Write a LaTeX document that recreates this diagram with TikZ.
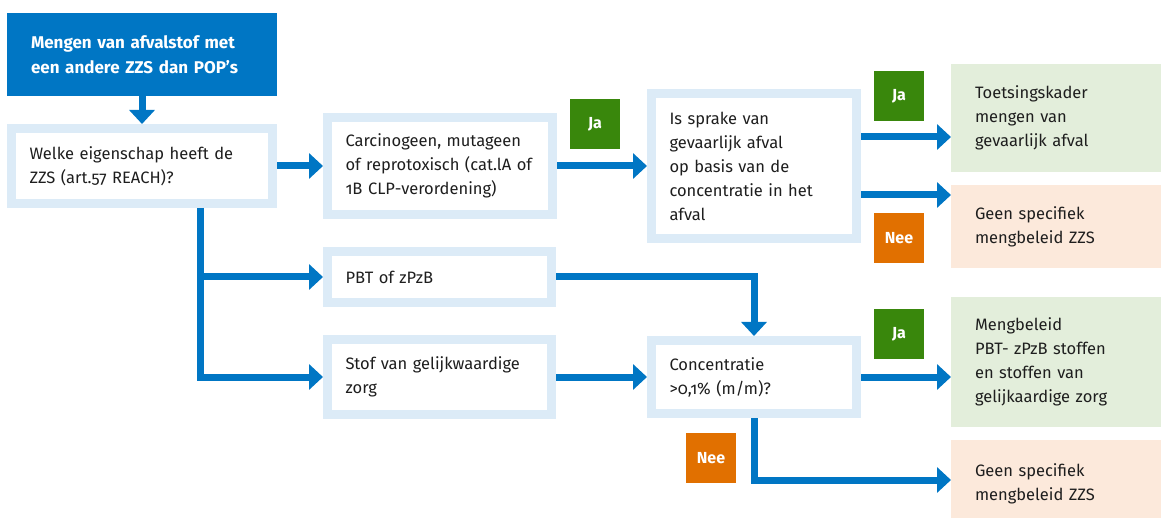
\documentclass[tikz,border=0pt]{standalone}
\usepackage{fontspec}
\setmainfont{Fira Sans}[Numbers=OldStyle]
\usetikzlibrary{arrows.meta}
\definecolor{rblue}{HTML}{0076C4}
\definecolor{lblue}{HTML}{DCEBF7}
\definecolor{rgreen}{HTML}{39870C}
\definecolor{rorange}{HTML}{E17000}
\definecolor{lgreen}{HTML}{E3EEDB}
\definecolor{lorange}{HTML}{FCE9DB}
\definecolor{txt}{HTML}{1E1E1E}
\tikzset{
  base/.style={anchor=north west, align=left, text=txt, font=\fontsize{16.5}{24}\selectfont},
  qbox/.style={base, draw=lblue, line width=9pt, fill=white, inner xsep=18pt, inner ysep=0pt},
  rbox/.style={base, draw=none, outer sep=0pt, inner xsep=24pt, inner ysep=0pt, minimum width=210pt, text width=162pt},
  okbox/.style={rbox, fill=lgreen},
  nobox/.style={rbox, fill=lorange},
  badge/.style={anchor=north west, minimum width=50pt, minimum height=50pt, inner sep=0pt, outer sep=0pt, text=white, font=\fontsize{16}{18}\selectfont\bfseries},
  jabadge/.style={badge, fill=rgreen},
  neebadge/.style={badge, fill=rorange},
  arr/.style={draw=rblue, line width=7pt, line join=miter, -{Triangle[length=14pt,width=25pt]}},
}
\begin{document}
\begin{tikzpicture}[x=1pt,y=-1pt]
\useasboundingbox (0,0) rectangle (1161,518);
% start
\node[anchor=north west, fill=rblue, outer sep=0pt, inner xsep=24pt, inner ysep=0pt,
      minimum width=270pt, minimum height=83pt, text width=222pt, align=left,
      text=white, font=\fontsize{17}{25.5}\selectfont\bfseries] (A) at (7,13)
  {Mengen van afvalstof met\\een andere ZZS dan POP’s};
% question boxes
\node[qbox, minimum width=261pt, minimum height=75pt, text width=225pt] (B) at (7,124)
  {Welke eigenschap heeft de\\ZZS (art.57 REACH)?};
\node[qbox, minimum width=225pt, minimum height=97pt, text width=189pt] (C) at (323,113)
  {Carcinogeen, mutageen\\of reprotoxisch (cat.lA of\\1B CLP-verordening)};
\node[qbox, minimum width=205pt, minimum height=145pt, text width=169pt] (D) at (647,89)
  {Is sprake van\\gevaarlijk afval\\op basis van de\\concentratie in het\\afval};
\node[qbox, minimum width=224pt, minimum height=51pt, text width=188pt] (G) at (323,247)
  {PBT of zPzB};
\node[qbox, minimum width=224pt, minimum height=75pt, text width=188pt] (H) at (323,335)
  {Stof van gelijkwaardige\\zorg};
\node[qbox, minimum width=205pt, minimum height=73pt, text width=169pt] (I) at (647,336)
  {Concentratie\\>0,1\% (m/m)?};
% result boxes
\node[okbox, minimum height=108pt] (E) at (951,64)
  {Toetsingskader\\mengen van\\gevaarlijk afval};
\node[nobox, minimum height=83pt] (F) at (951,185)
  {Geen specifiek\\mengbeleid ZZS};
\node[okbox, minimum height=130pt] (J) at (951,297)
  {Mengbeleid\\PBT- zPzB stoffen\\en stoffen van\\gelijkaardige zorg};
\node[nobox, minimum height=88pt] (K) at (951,440)
  {Geen specifiek\\mengbeleid ZZS};
% badges
\node[jabadge] (ja1) at (570,99) {Ja};
\node[jabadge] (ja2) at (874,71) {Ja};
\node[neebadge] (nee1) at (874,213) {Nee};
\node[jabadge] (ja3) at (874,309) {Ja};
\node[neebadge] (nee2) at (686,433) {Nee};
% helper coordinates
\coordinate (s) at (200,0);
\coordinate (yT) at (0,137);
\coordinate (yF) at (0,195);
\coordinate (yK) at (0,480);
% connectors
\draw[arr] (A.south) -- (B.north);
\draw[arr] (B.east) -- (B.east -| C.west);
\draw[arr] (C.east) -- (C.east -| D.west);
\draw[arr] (D.east |- yT) -- (E.west |- yT);
\draw[arr] (D.east |- yF) -- (F.west |- yF);
\draw[arr] (B.south -| s) |- (H.west);
\draw[arr] (s |- G.west) -- (G.west);
\draw[arr] (G.east) -| (I.north);
\draw[arr] (H.east) -- (H.east -| I.west);
\draw[arr] (I.east) -- (I.east -| J.west);
\draw[arr] (I.south) |- (K.west |- yK);
\end{tikzpicture}
\end{document}
